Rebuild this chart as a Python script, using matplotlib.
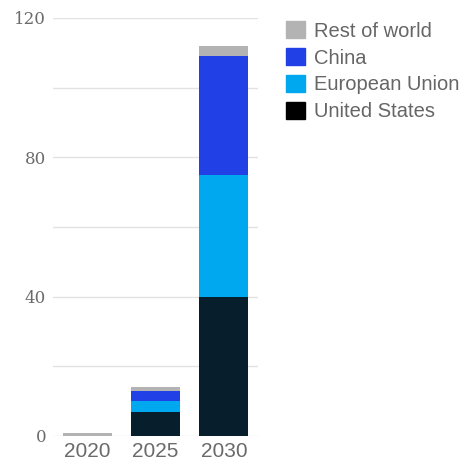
import matplotlib
matplotlib.use("Agg")
import matplotlib.pyplot as plt
from matplotlib.patches import Patch

# Data
years = ["2020", "2025", "2030"]
united_states = [0, 7, 40]
european_union = [0, 3, 35]
china = [0, 3, 34]
rest_of_world = [1, 1, 3]

colors = {
    "United States": "#071e2c",
    "European Union": "#00a8f0",
    "China": "#2140e6",
    "Rest of world": "#b3b3b3",
}

fig = plt.figure(figsize=(4.67, 4.66), dpi=100)
ax = fig.add_axes([0.1135, 0.0644, 0.439, 0.897])

x = range(len(years))
width = 0.72
bottom = [0, 0, 0]
series = [("United States", united_states), ("European Union", european_union),
          ("China", china), ("Rest of world", rest_of_world)]
for name, vals in series:
    ax.bar(x, vals, width, bottom=bottom, color=colors[name], zorder=3, linewidth=0)
    bottom = [b + v for b, v in zip(bottom, vals)]

ax.set_xlim(-0.5, 2.5)
ax.set_ylim(0, 120)
ax.set_yticks([0, 40, 80, 120])
ax.set_yticks([20, 60, 100], minor=True)
ax.grid(axis="y", which="both", color="#e2e2e2", linewidth=1, zorder=0)
for s in ax.spines.values():
    s.set_visible(False)
ax.tick_params(axis="both", which="both", length=0)
ax.tick_params(axis="y", pad=5, labelsize=12, labelcolor="#6a6a6a")
ax.tick_params(axis="x", pad=4, labelsize=15, labelcolor="#6a6a6a")
ax.set_xticks(list(x))
ax.set_xticklabels(years)
for lab in ax.get_yticklabels():
    lab.set_family("DejaVu Serif")
for lab in ax.get_xticklabels():
    lab.set_family("Liberation Sans")

# Legend with black square for United States
handles = [
    Patch(color="#b3b3b3", label="Rest of world"),
    Patch(color="#2140e6", label="China"),
    Patch(color="#00a8f0", label="European Union"),
    Patch(color="#000000", label="United States"),
]
leg = fig.legend(handles=handles, loc="upper left", bbox_to_anchor=(0.595, 0.972),
                 frameon=False, handlelength=0.95, handleheight=0.95, handletextpad=0.42,
                 labelspacing=0.36, borderaxespad=0,
                 prop={"family": "Liberation Sans", "size": 14.5})
for t in leg.get_texts():
    t.set_color("#666666")

fig.savefig("out.png", dpi=100)
